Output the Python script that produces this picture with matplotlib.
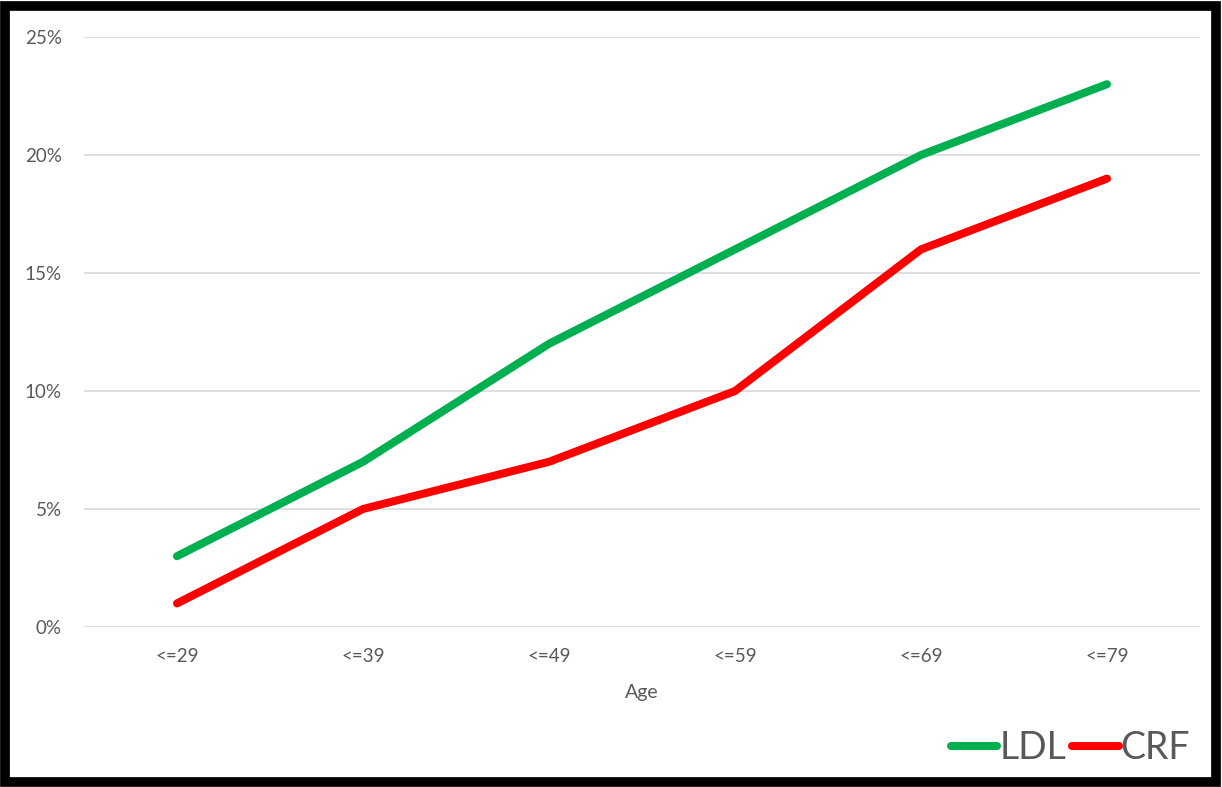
import matplotlib.pyplot as plt
from matplotlib.patches import Rectangle
from matplotlib.ticker import PercentFormatter

ages = ['<=29', '<=39', '<=49', '<=59', '<=69', '<=79']
ldl = [3, 7, 12, 16, 20, 23]
crf = [1, 5, 7, 10, 16, 19]

grey = '#595959'
plt.rcParams['font.family'] = ['Lato', 'DejaVu Sans']


def main():
    fig = plt.figure(figsize=(12.22, 7.87), dpi=100)
    ax = fig.add_axes([84 / 1222, 1 - 627 / 787, (1200 - 84) / 1222, (627 - 37) / 787])

    x = list(range(len(ages)))
    ax.plot(x, ldl, color='#00B050', linewidth=5.8, solid_capstyle='round', label='LDL')
    ax.plot(x, crf, color='#FF0000', linewidth=5.8, solid_capstyle='round', label='CRF')

    ax.set_xlim(-0.5, len(ages) - 0.5)
    ax.set_ylim(0, 25)
    ax.set_yticks([0, 5, 10, 15, 20, 25])
    ax.yaxis.set_major_formatter(PercentFormatter(decimals=0))
    ax.set_xticks(x)
    ax.set_xticklabels(ages)
    ax.grid(axis='y', color='#D9D9D9', linewidth=1.2)
    ax.set_axisbelow(True)
    for s in ax.spines.values():
        s.set_visible(False)
    ax.tick_params(axis='both', length=0, labelsize=13.5, colors=grey)
    ax.tick_params(axis='y', pad=16)
    ax.tick_params(axis='x', pad=15)
    ax.set_xlabel('Age', fontsize=14, color=grey, labelpad=14)

    fig.legend(loc='center right', bbox_to_anchor=(1190 / 1222, 1 - 748 / 787), ncol=2,
               frameon=False, fontsize=27, labelcolor=grey, handlelength=1.25,
               handletextpad=0.05, columnspacing=0.15, borderpad=0, borderaxespad=0)

    fig.patches.append(Rectangle((5 / 1222, 1 - 782 / 787), 1211 / 1222, 776 / 787,
                                 transform=fig.transFigure, fill=False,
                                 edgecolor='black', linewidth=7))
    fig.savefig('out.png', dpi=100)


if __name__ == '__main__':
    main()
